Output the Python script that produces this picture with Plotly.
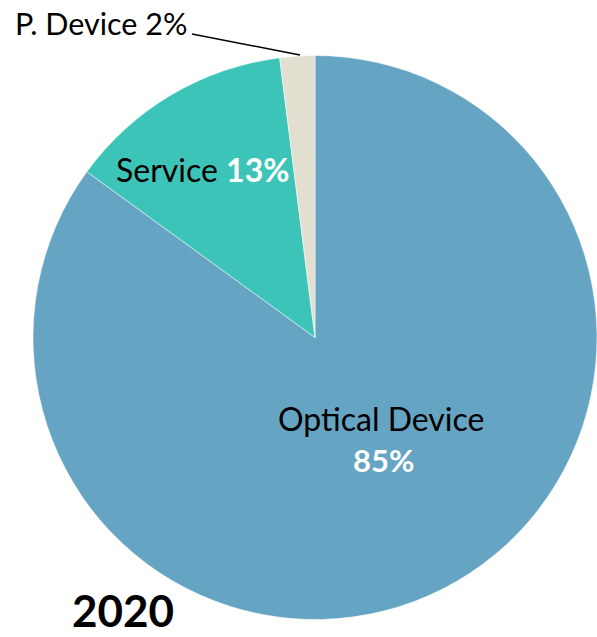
import plotly.graph_objects as go

labels = ["Optical Device", "Service", "P. Device"]
values = [85, 13, 2]
colors = ["#65A4C2", "#3DC4B8", "#E2DFD0"]
year = "2020"

W, H = 597, 637
ML, MR, MT, MB = 33, 0, 55, 17
PW, PH = W - ML - MR, H - MT - MB

def px(x, y):
    return (x - ML) / PW, (H - MB - y) / PH

FONT = "Lato"

fig = go.Figure(go.Pie(
    labels=labels, values=values, sort=False, direction="clockwise", rotation=0,
    marker=dict(colors=colors, line=dict(color="white", width=0.5)),
    textinfo="none", hoverinfo="label+percent", showlegend=False,
))

ann = []
x, y = px(381, 418)
ann.append(dict(x=x, y=y, text=labels[0], font=dict(size=32, color="black", family=FONT)))
x, y = px(383, 460)
ann.append(dict(x=x, y=y, text=f"<b>{values[0]}%</b>", font=dict(size=31, color="white", family=FONT)))
x, y = px(202, 169)
ann.append(dict(x=x, y=y, text=f"{labels[1]} <span style='color:white'><b>{values[1]}%</b></span>",
                font=dict(size=32, color="black", family=FONT)))
x, y = px(101, 23)
ann.append(dict(x=x, y=y, text=f"{labels[2]} {values[2]}%", font=dict(size=30.5, color="black", family=FONT)))
x, y = px(123, 610)
ann.append(dict(x=x, y=y, text=f"<b>{year}</b>",
                font=dict(size=44, color="black", family=FONT)))
for a in ann:
    a.update(xref="paper", yref="paper", showarrow=False, xanchor="center", yanchor="middle")

x0, y0 = px(192, 34)
x1, y1 = px(300, 55)
fig.update_layout(
    width=W, height=H, autosize=False,
    margin=dict(l=ML, r=MR, t=MT, b=MB, pad=0),
    paper_bgcolor="white", plot_bgcolor="white",
    annotations=ann,
    shapes=[dict(type="line", xref="paper", yref="paper", x0=x0, y0=y0, x1=x1, y1=y1,
                 line=dict(color="black", width=1.5))],
)
fig.write_html("out.html")
